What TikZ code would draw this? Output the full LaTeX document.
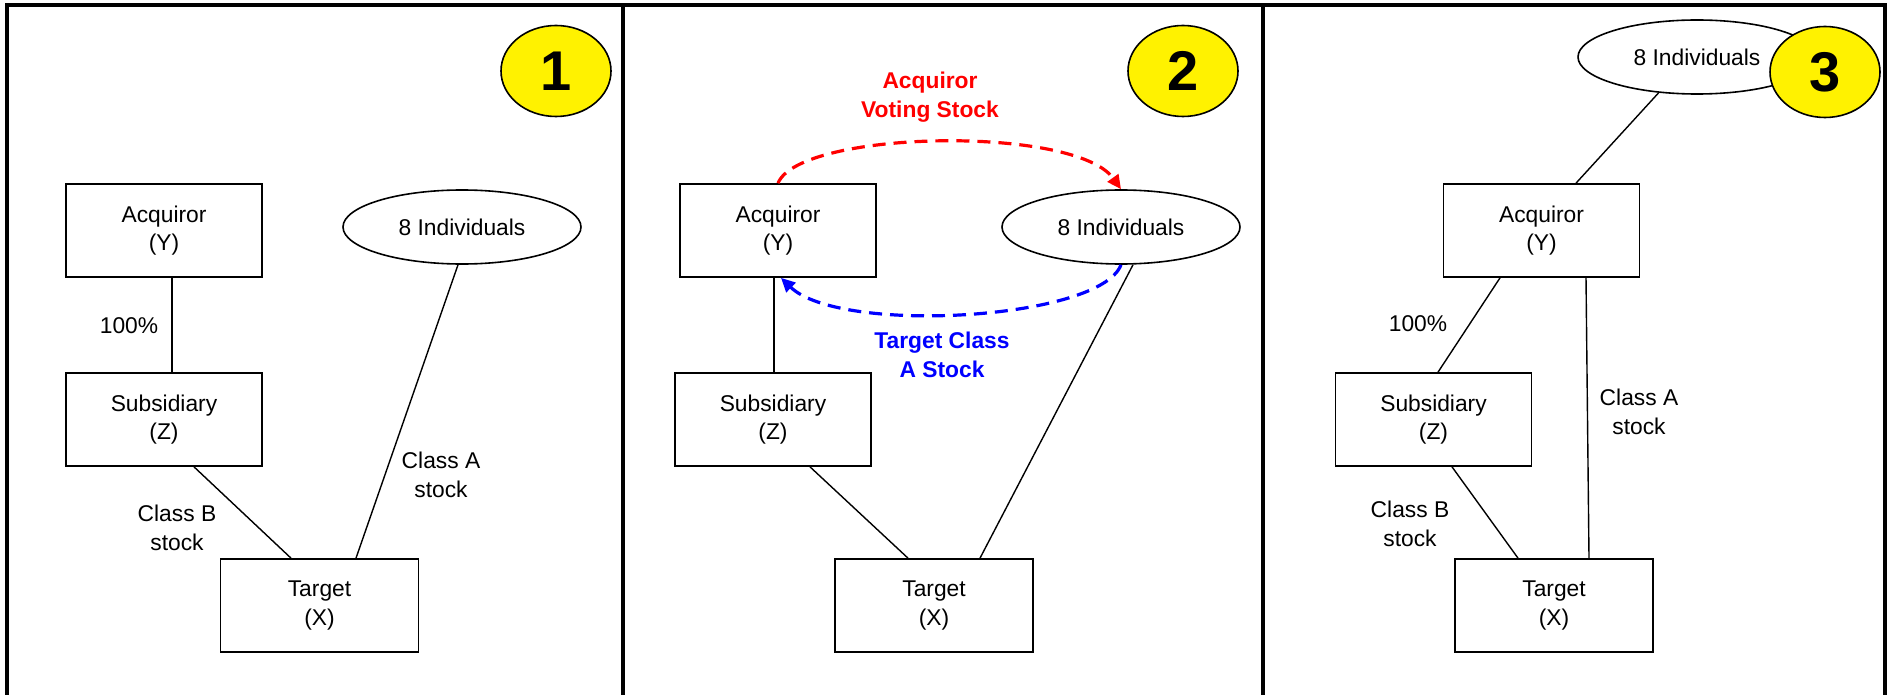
\documentclass[tikz,border=0pt]{standalone}
\usepackage{fontspec}
\setmainfont{Liberation Sans}
\usetikzlibrary{shapes.geometric,arrows.meta,calc}
\begin{document}
\begin{tikzpicture}[x=1pt,y=-1pt,
  txt/.style={font=\fontsize{22.8}{28.5}\selectfont},
  box/.style={txt,draw,line width=1.7pt,minimum width=196pt,minimum height=93pt,inner sep=0pt,align=center,
    execute at begin node={\vspace*{2pt}}},
  grp/.style={txt,draw,ellipse,fill=white,line width=1.6pt,minimum width=238pt,minimum height=74pt,inner sep=0pt},
  badge/.style={draw,ellipse,fill=yellow,line width=1.6pt,minimum width=110pt,minimum height=91pt,inner sep=0pt,font=\fontsize{56}{60}\selectfont\bfseries},
  lbl/.style={txt,align=center,inner sep=0pt},
  flowlbl/.style={font=\fontsize{22.8}{29}\selectfont\bfseries,align=center,inner sep=0pt},
  link/.style={line width=1.4pt},
  frameline/.style={line width=3.4pt},
  flow/.style={line width=3.2pt,dash pattern=on 13pt off 8pt,-{Triangle[length=14pt,width=13pt]}}
]
\useasboundingbox (0,0) rectangle (1889,695);
% frame
\draw[frameline] (7,700) -- (7,5) -- (1885,5) -- (1885,700);
\draw[frameline] (623,5) -- (623,700);
\draw[frameline] (1263,5) -- (1263,700);

% ---------- panel 1
\node[box] (acq1) at (164,230.5) {Acquiror\\(Y)};
\node[box] (sub1) at (164,419.5) {Subsidiary\\(Z)};
\node[box,minimum width=198pt] (tgt1) at (319.5,605.5) {Target\\(X)};
\node[grp] (ell1) at (462,227) {8 Individuals};
\node[badge] (b1) at (556,71) {1};
\draw[link] ([xshift=8pt]acq1.south) -- ([xshift=8pt]sub1.north);
\draw[link] ([xshift=30pt]sub1.south) -- ([xshift=-28.5pt]tgt1.north);
\draw[link] ([xshift=-4pt]ell1.south) -- ([xshift=36.5pt]tgt1.north);
\node[lbl] (p1) at (129,326) {100\%};
\node[lbl] (cb1) at (177,528) {Class B\\stock};
\node[lbl] (ca1) at (441,475) {Class A\\stock};

% ---------- panel 2
\node[box] (acq2) at (778,230.5) {Acquiror\\(Y)};
\node[box] (sub2) at (773,419.5) {Subsidiary\\(Z)};
\node[box,minimum width=198pt] (tgt2) at (934,605.5) {Target\\(X)};
\node[grp] (ell2) at (1121,227) {8 Individuals};
\node[badge] (b2) at (1183,71) {2};
\draw[link] ([xshift=-4pt]acq2.south) -- ([xshift=1pt]sub2.north);
\draw[link] ([xshift=37pt]sub2.south) -- ([xshift=-26pt]tgt2.north);
\draw[link] ([xshift=12pt]ell2.south) -- ([xshift=46pt]tgt2.north);
\draw[flow,red] (acq2.north) .. controls (800,130) and (1075,125) .. (ell2.north);
\draw[flow,blue] (ell2.south) .. controls (1100,320) and (840,335) .. ([xshift=3pt]acq2.south);
\node[flowlbl,text=red] (vs) at (930,97) {Acquiror\\Voting Stock};
\node[flowlbl,text=blue] (tc) at (942,355) {Target Class\\A Stock};

% ---------- panel 3
\node[box] (acq3) at (1541.5,230.5) {Acquiror\\(Y)};
\node[box] (sub3) at (1433.5,419.5) {Subsidiary\\(Z)};
\node[box,minimum width=198pt] (tgt3) at (1554,605.5) {Target\\(X)};
\node[grp] (ell3) at (1697,57) {8 Individuals};
\node[badge] (b3) at (1825,72) {3};
\draw[link] (ell3.223) -- ([xshift=34.5pt]acq3.north);
\draw[link] ([xshift=-41.5pt]acq3.south) -- ([xshift=4.5pt]sub3.north);
\draw[link] ([xshift=44.5pt]acq3.south) -- ([xshift=35pt]tgt3.north);
\draw[link] ([xshift=18.5pt]sub3.south) -- ([xshift=-36pt]tgt3.north);
\node[lbl] (p3) at (1418,324) {100\%};
\node[lbl] (cb3) at (1410,524) {Class B\\stock};
\node[lbl] (ca3) at (1639,412) {Class A\\stock};
\end{tikzpicture}
\end{document}
